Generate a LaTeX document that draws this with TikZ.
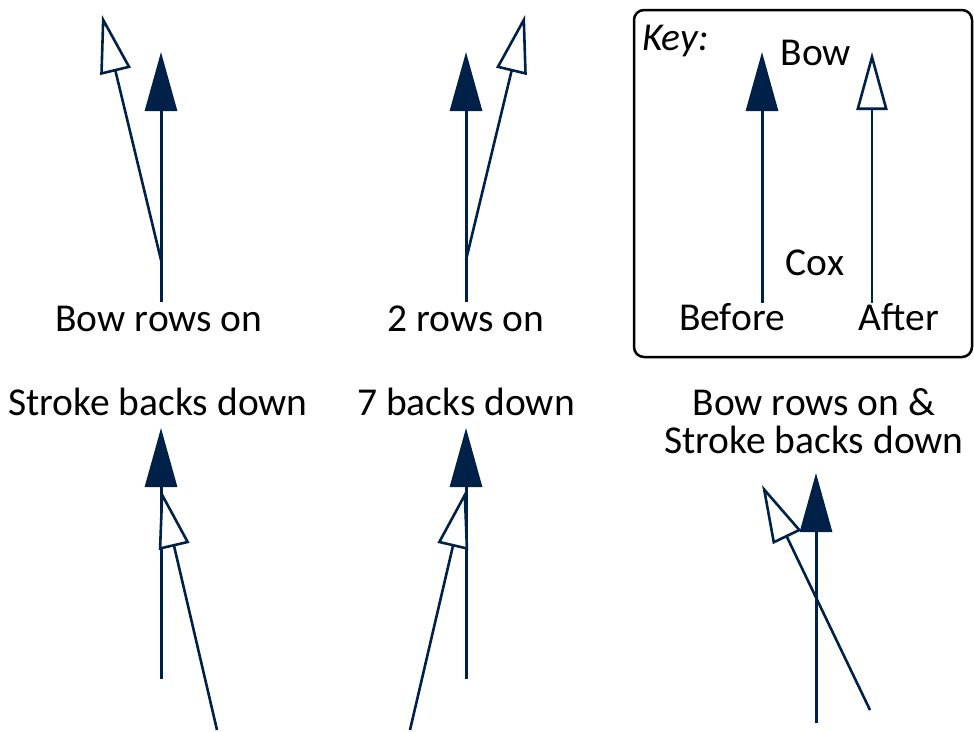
\documentclass[tikz,border=0pt]{standalone}
\usepackage{fontspec}
\setmainfont{Carlito}
\usetikzlibrary{arrows.meta}
\definecolor{navy}{RGB}{0,33,71}

\begin{document}
\begin{tikzpicture}[x=1pt,y=-1pt,
  before/.style={-{Triangle[length=59pt,width=32pt]},draw=navy,line width=3pt},
  after/.style={-{Triangle[open,length=58pt,width=31pt,fill=white]},draw=navy,line width=2.6pt},
  label node/.style={font=\fontsize{39.5}{38}\selectfont,anchor=base,inner sep=0pt,align=center}]

  \useasboundingbox (0,0) rectangle (974,731);

  % top row
  \coordinate (b1) at (161,302);
  \coordinate (t1) at (161,52);
  \coordinate (s1) at (161,260);
  \coordinate (e1) at (102,15);
  \coordinate (b2) at (466,302);
  \coordinate (t2) at (466,52);
  \coordinate (s2) at (466,260);
  \coordinate (e2) at (525,15);
  \node[label node] (l1) at (159,331) {Bow rows on};
  \node[label node] (l2) at (466,331) {2 rows on};

  % bottom row
  \coordinate (b3) at (161,679);
  \coordinate (t3) at (161,428);
  \coordinate (s3) at (217,730);
  \coordinate (e3) at (161,490);
  \coordinate (b4) at (466,679);
  \coordinate (t4) at (466,428);
  \coordinate (s4) at (410,730);
  \coordinate (e4) at (466,490);
  \coordinate (b5) at (816,723);
  \coordinate (t5) at (816,473);
  \coordinate (s5) at (870,710);
  \coordinate (e5) at (762,485);
  \node[label node] (l3) at (158,415) {Stroke backs down};
  \node[label node] (l4) at (466,415) {7 backs down};
  \node[label node] (l5) at (814,453) {Bow rows on \&\\Stroke backs down};

  % key
  \draw[line width=2.5pt,rounded corners=10pt] (634,10) rectangle (972,357);
  \coordinate (kb) at (762,303);
  \coordinate (kt) at (762,52);
  \coordinate (ks) at (872,303);
  \coordinate (ke) at (872,52);
  \node[label node,anchor=base west] (key) at (642,50) {\itshape Key:};
  \node[label node] (bow) at (816,65) {Bow};
  \node[label node] (cox) at (815,275) {Cox};
  \node[label node] (bef) at (732,330) {Before};
  \node[label node] (aft) at (899,330) {After};

  \path (b1) edge[before] (t1)
        (s1) edge[after] (e1)
        (b2) edge[before] (t2)
        (s2) edge[after] (e2)
        (b3) edge[before] (t3)
        (s3) edge[after] (e3)
        (b4) edge[before] (t4)
        (s4) edge[after] (e4)
        (b5) edge[before] (t5)
        (s5) edge[after] (e5)
        (kb) edge[before] (kt)
        (ks) edge[after] (ke);

\end{tikzpicture}
\end{document}
